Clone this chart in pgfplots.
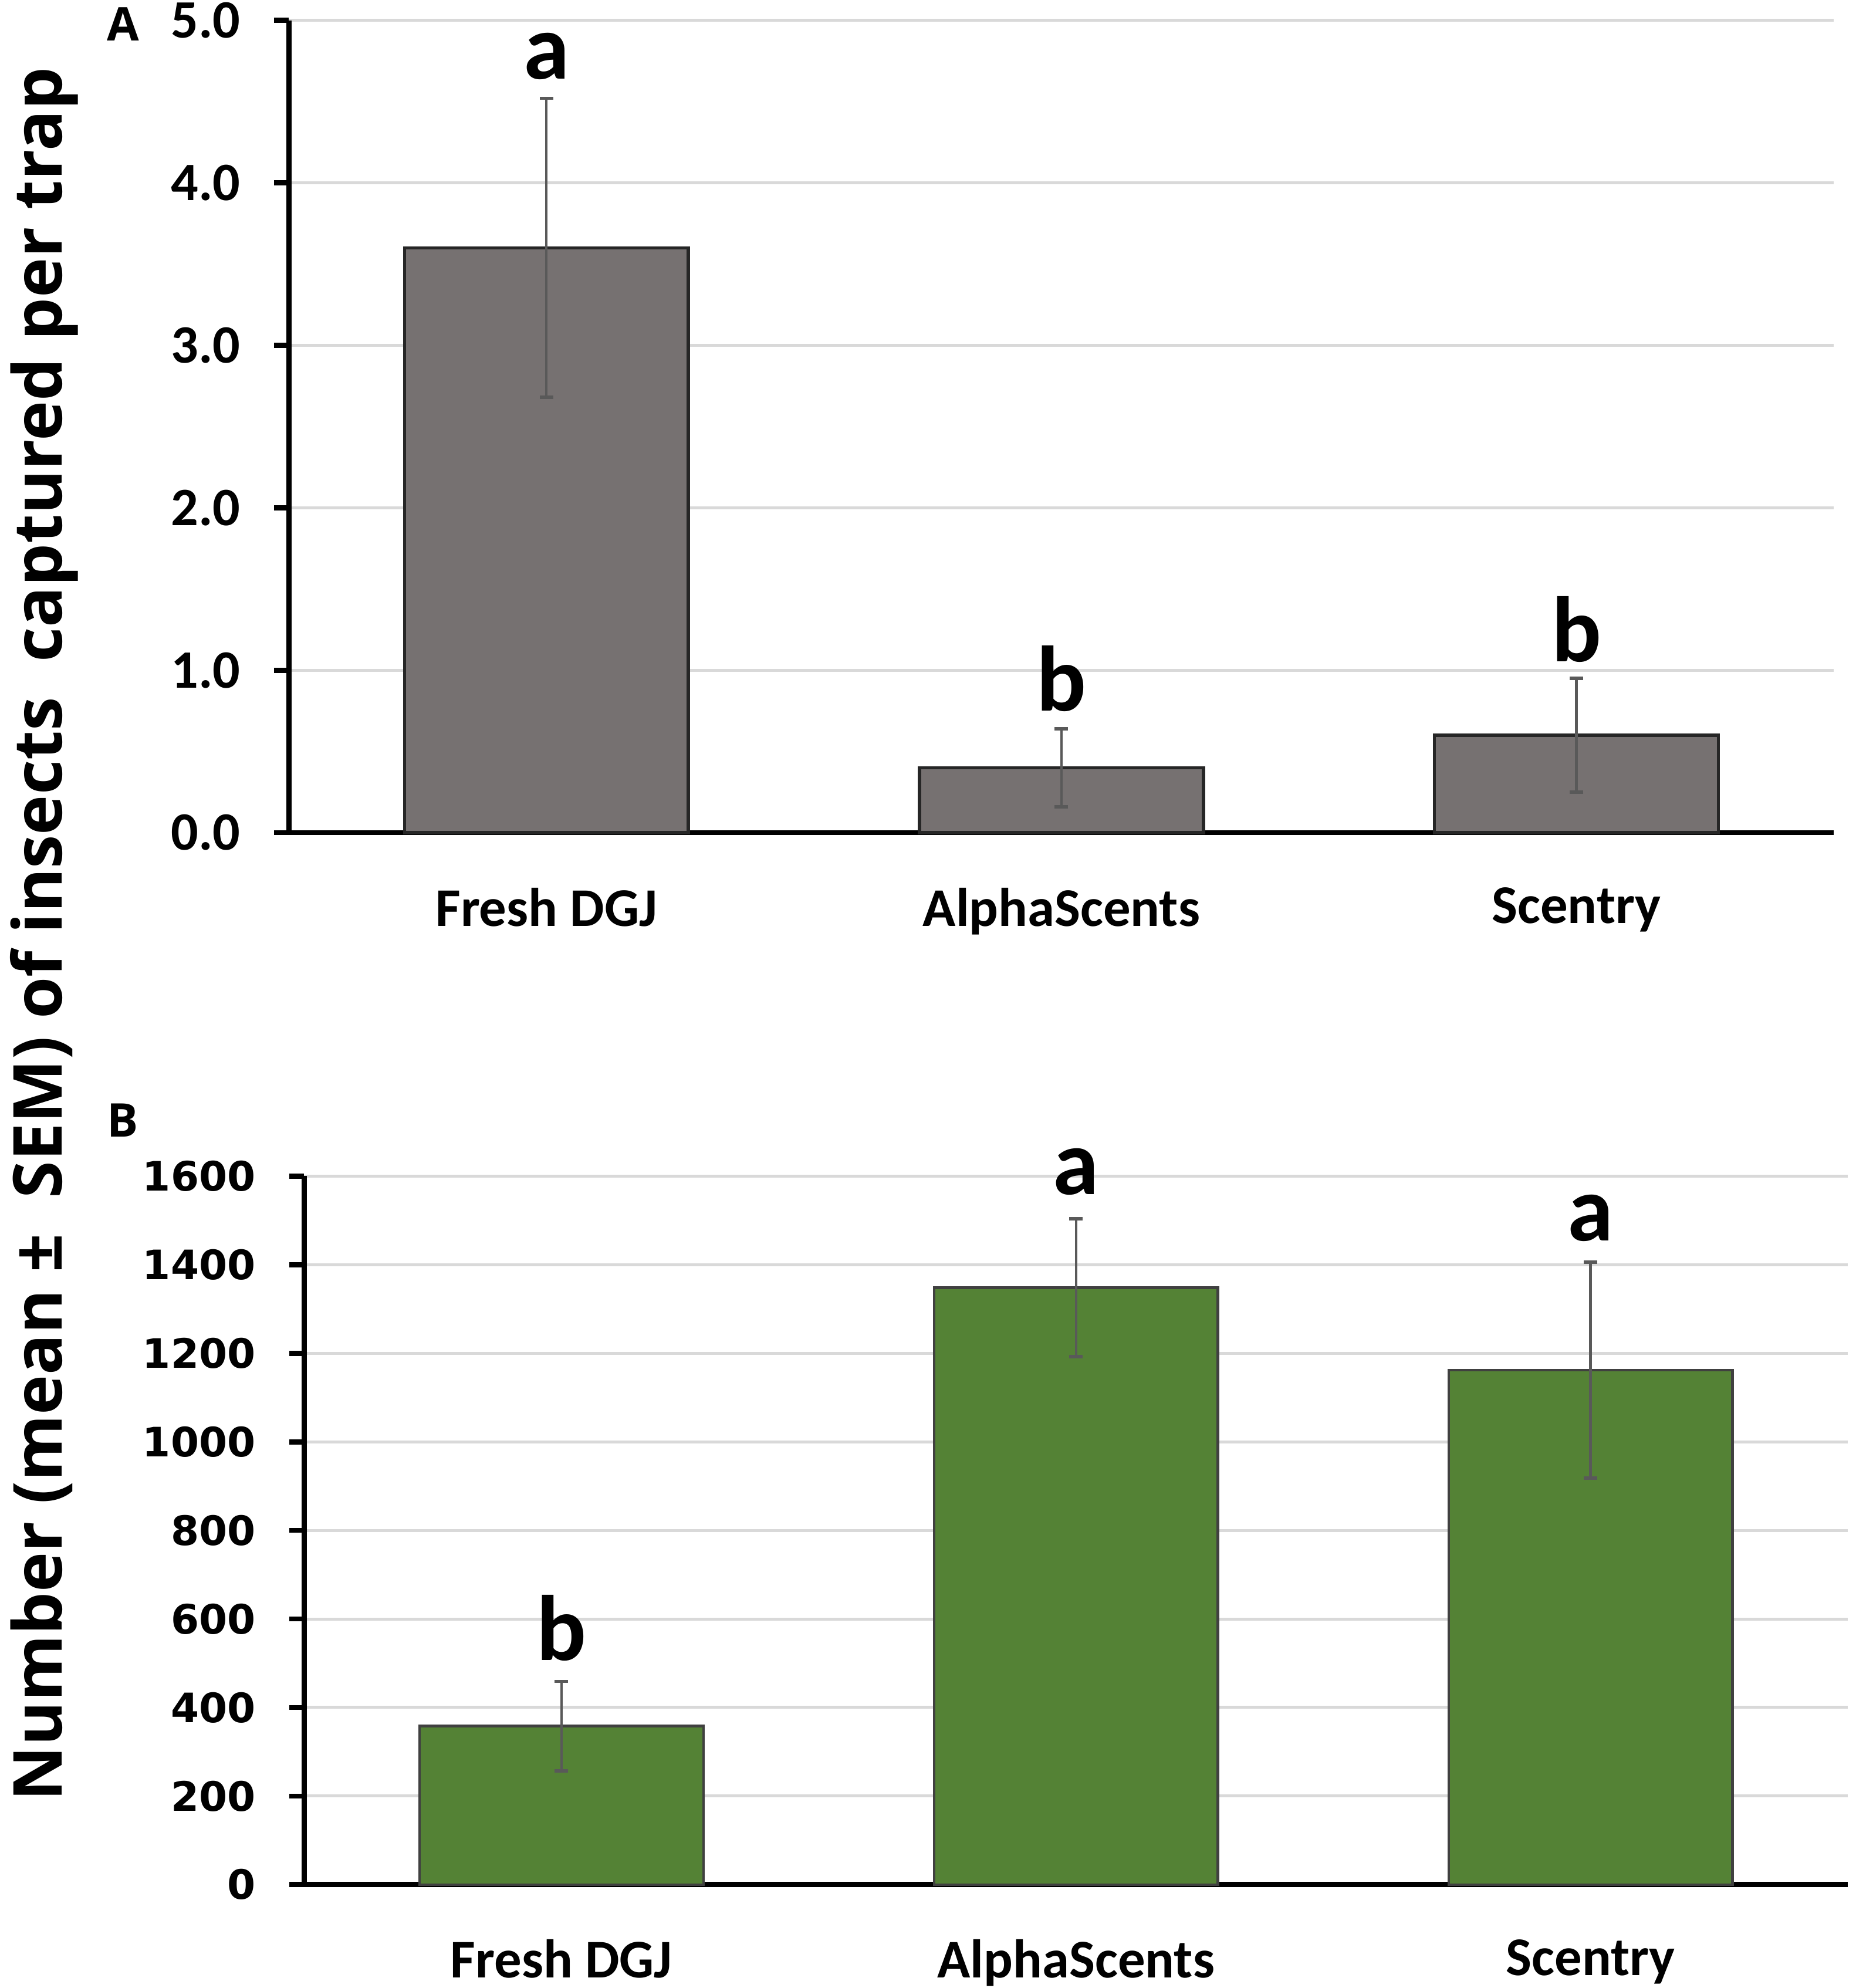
\documentclass[border=0pt]{standalone}
\usepackage{fontspec}
\setmainfont{Open Sans}
\newfontfamily\carl{Carlito}
\newfontfamily\dvs{DejaVu Sans}
\usepackage{pgfplots}
\pgfplotsset{compat=1.18}
\definecolor{bargray}{HTML}{767171}
\definecolor{bargreen}{HTML}{548235}
\definecolor{gridgray}{HTML}{D9D9D9}
\definecolor{errgray}{HTML}{595959}
\definecolor{edgegray}{HTML}{404040}
\newlength{\un}\setlength{\un}{0.3pt}
\pgfplotsset{
  panel/.style={
    scale only axis,
    anchor=south west,
    xmin=-0.5, xmax=2.5,
    ymin=0,
    axis x line*=bottom, axis y line*=left,
    axis line style={line width=1.2pt, black},
    xtick={0,1,2},
    xticklabels={Fresh DGJ, AlphaScents, Scentry},
    xticklabel style={font=\carl\bfseries\fontsize{12.9}{14}\selectfont, yshift=-6pt},
    major x tick style={draw=none},
    ytick style={line width=1.2pt, black},
    tick align=outside,
    major tick length=3.5pt,
    ymajorgrids,
    grid style={gridgray, line width=0.7pt},
    clip=false,
    /pgf/number format/assume math mode=true,
  },
  ebar/.style={
    ybar, bar width=67.2pt, bar shift=0pt,
    line width=0.6pt,
    error bars/y dir=both, error bars/y explicit,
    error bars/error bar style={errgray, line width=0.6pt},
    error bars/error mark options={rotate=90, errgray, mark size=1.6pt, line width=0.8pt},
  },
}
\begin{document}
\begin{tikzpicture}
\useasboundingbox (0,0) rectangle (1464\un,-1568.6\un);
% Panel A
\begin{axis}[panel,
  at={(228\un,-657\un)},
  width=1219\un, height=641\un,
  ymax=5, ytick={0,1,2,3,4,5},
  yticklabels={0.0,1.0,2.0,3.0,4.0,5.0},
  yticklabel style={font=\carl\bfseries\fontsize{12.8}{14}\selectfont, xshift=-4.5pt},
]
\addplot[ebar, fill=bargray, draw=black!85, line width=0.75pt] coordinates {
  (0,3.60) +- (0,0.92)
  (1,0.40) +- (0,0.24)
  (2,0.60) +- (0,0.35)
};
\node[font=\carl\bfseries\fontsize{22}{24}\selectfont] at (axis cs:0,4.78) {a};
\node[font=\carl\bfseries\fontsize{22}{24}\selectfont] at (axis cs:1,0.95) {b};
\node[font=\carl\bfseries\fontsize{22}{24}\selectfont] at (axis cs:2,1.25) {b};
\end{axis}
% Panel B
\begin{axis}[panel,
  at={(240\un,-1487\un)},
  width=1218\un, height=559\un,
  ymax=1600, ytick={0,200,400,600,800,1000,1200,1400,1600},
  yticklabels={0,200,400,600,800,1000,1200,1400,1600},
  yticklabel style={font=\dvs\bfseries\fontsize{9.6}{11}\selectfont, xshift=-4.5pt},
]
\addplot[ebar, fill=bargreen, draw=edgegray] coordinates {
  (0,358) +- (0,101)
  (1,1348) +- (0,156)
  (2,1162) +- (0,244)
};
\node[font=\carl\bfseries\fontsize{22}{24}\selectfont] at (axis cs:0,580) {b};
\node[font=\carl\bfseries\fontsize{22}{24}\selectfont] at (axis cs:1,1610) {a};
\node[font=\carl\bfseries\fontsize{22}{24}\selectfont] at (axis cs:2,1505) {a};
\end{axis}
% y label
\node[rotate=90, anchor=base, font=\bfseries\fontsize{16}{18}\selectfont] at (49\un,-737\un)
  {Number (mean ±\ \ SEM) of insects\ \ captured per trap};
% panel labels
\node[font=\bfseries\fontsize{11}{13}\selectfont] at (97\un,-19\un) {A};
\node[font=\bfseries\fontsize{11}{13}\selectfont] at (97\un,-884\un) {B};
\end{tikzpicture}
\end{document}
